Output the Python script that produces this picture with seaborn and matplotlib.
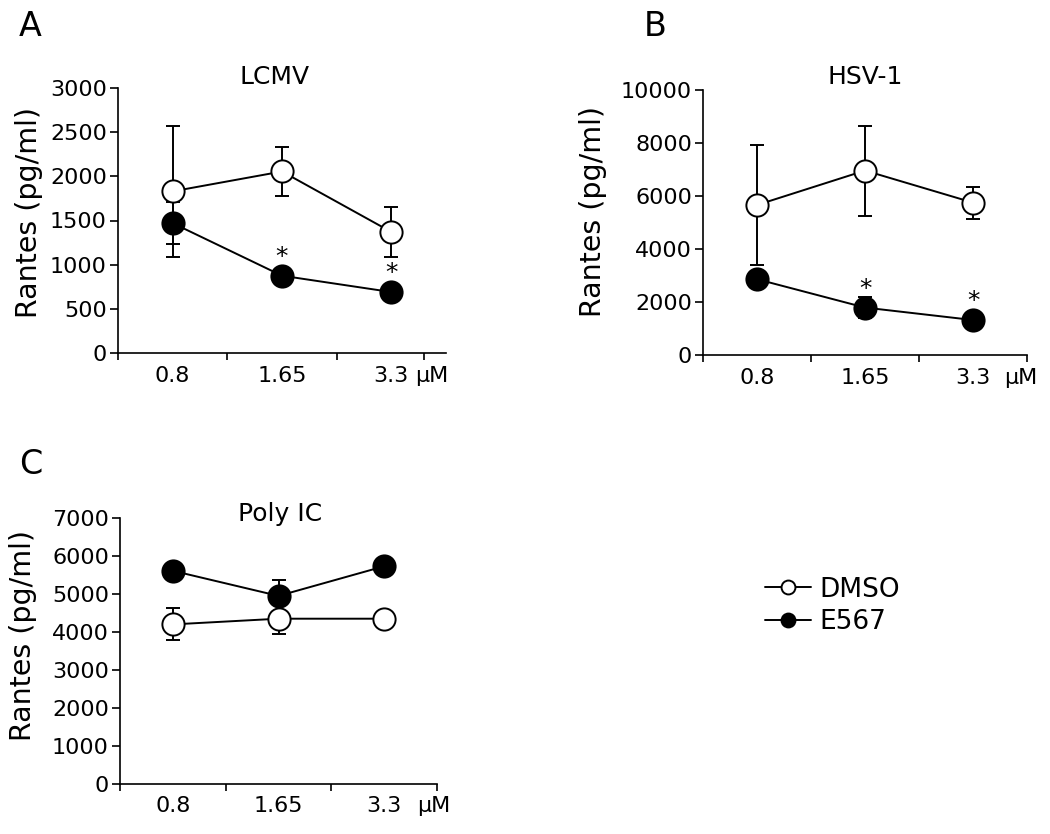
import numpy as np
import pandas as pd
import seaborn as sns
import matplotlib.pyplot as plt
from matplotlib.lines import Line2D

sns.set_style('white')
plt.rcParams['font.family'] = ['DejaVu Sans']
plt.rcParams['text.color'] = 'black'
plt.rcParams['axes.labelcolor'] = 'black'
plt.rcParams['xtick.color'] = 'black'
plt.rcParams['ytick.color'] = 'black'

doses = ['0.8', '1.65', '3.3']
unit = 'μM'

# LCMV (panel A)
lcmv_dmso = [1830, 2055, 1370]
lcmv_dmso_err = [740, 280, 280]
lcmv_e567 = [1470, 875, 690]
lcmv_e567_err = [240, 60, 40]

# HSV-1 (panel B)
hsv_dmso = [5660, 6960, 5750]
hsv_dmso_err = [2250, 1700, 600]
hsv_e567 = [2860, 1790, 1320]
hsv_e567_err = [100, 410, 80]

# Poly IC (panel C)
poly_dmso = [4200, 4350, 4350]
poly_dmso_err = [420, 410, 60]
poly_e567 = [5610, 4950, 5730]
poly_e567_err = [80, 430, 80]

W, H = 1050, 834
fig = plt.figure(figsize=(W / 100, H / 100), dpi=100)


def px_axes(left, top, right, bottom):
    # axes box given in pixels of the 1050x834 picture
    return fig.add_axes([left / W, 1 - bottom / H, (right - left) / W, (bottom - top) / H])


def panel(ax, dmso, dmso_err, e567, e567_err, ymax, step, last_tick, unit_x, stars):
    pos = np.arange(len(doses))
    df = pd.DataFrame({'x': np.concatenate([pos, pos]),
                       'value': dmso + e567,
                       'group': ['DMSO'] * 3 + ['E567'] * 3})

    # error bars behind the markers
    ax.errorbar(pos, dmso, yerr=dmso_err, fmt='none', ecolor='black',
                elinewidth=1.4, capsize=5, capthick=1.4, zorder=1)
    ax.errorbar(pos, e567, yerr=e567_err, fmt='none', ecolor='black',
                elinewidth=1.4, capsize=5, capthick=1.4, zorder=1)

    sns.lineplot(data=df[df['group'] == 'DMSO'], x='x', y='value', ax=ax,
                 color='black', marker='o', markersize=16, markerfacecolor='white',
                 markeredgecolor='black', markeredgewidth=1.4, linewidth=1.4,
                 errorbar=None, zorder=3, legend=False)
    sns.lineplot(data=df[df['group'] == 'E567'], x='x', y='value', ax=ax,
                 color='black', marker='o', markersize=16, markerfacecolor='black',
                 markeredgecolor='black', markeredgewidth=1.4, linewidth=1.4,
                 errorbar=None, zorder=4, legend=False)

    for i in stars:
        ax.annotate('*', xy=(pos[i], e567[i]), xytext=(0, 5), textcoords='offset points',
                    ha='center', va='bottom', fontsize=18)

    ax.set_xlim(-0.5, 2.5)
    ax.set_ylim(0, ymax)
    ax.set_yticks(np.arange(0, ymax + 1, step))
    ax.set_xticks([-0.5, 0.5, 1.5, last_tick])
    ax.set_xticklabels([])
    ax.set_xticks(list(pos) + [unit_x], minor=True)
    ax.set_xticklabels(doses + [unit], minor=True)
    ax.tick_params(axis='x', which='major', direction='out', length=5, width=1.2, color='black')
    ax.tick_params(axis='x', which='minor', length=0, pad=9, labelsize=16)
    ax.tick_params(axis='y', direction='out', length=6, width=1.2, color='black',
                   labelsize=16, pad=2)
    ax.tick_params(left=True, bottom=True)
    sns.despine(ax=ax)
    for s in ['left', 'bottom']:
        ax.spines[s].set_linewidth(1.2)
        ax.spines[s].set_color('black')
    ax.set_xlabel('')
    ax.set_ylabel('Rantes (pg/ml)', fontsize=20.5)


axA = px_axes(118, 88, 446, 353)
panel(axA, lcmv_dmso, lcmv_dmso_err, lcmv_e567, lcmv_e567_err, 3000, 500, 2.3, 2.37, [1, 2])
axA.yaxis.set_label_coords(-0.23, 0.53)

axB = px_axes(703, 90, 1027, 355)
panel(axB, hsv_dmso, hsv_dmso_err, hsv_e567, hsv_e567_err, 10000, 2000, 2.5, 2.44, [1, 2])
axB.yaxis.set_label_coords(-0.296, 0.54)

axC = px_axes(120, 518, 437, 784)
panel(axC, poly_dmso, poly_dmso_err, poly_e567, poly_e567_err, 7000, 1000, 2.5, 2.47, [])
axC.yaxis.set_label_coords(-0.262, 0.56)

# titles and panel letters
fig.text(275 / W, 1 - 77 / H, 'LCMV', ha='center', va='center', fontsize=18)
fig.text(865 / W, 1 - 77 / H, 'HSV-1', ha='center', va='center', fontsize=18)
fig.text(280 / W, 1 - 514 / H, 'Poly IC', ha='center', va='center', fontsize=18)
fig.text(30 / W, 1 - 26 / H, 'A', ha='center', va='center', fontsize=24)
fig.text(655 / W, 1 - 26 / H, 'B', ha='center', va='center', fontsize=24)
fig.text(31 / W, 1 - 465 / H, 'C', ha='center', va='center', fontsize=24)

handles = [
    Line2D([], [], color='black', linewidth=1.4, marker='o', markersize=10,
           markerfacecolor='white', markeredgecolor='black', markeredgewidth=1.4),
    Line2D([], [], color='black', linewidth=1.4, marker='o', markersize=10,
           markerfacecolor='black', markeredgecolor='black', markeredgewidth=1.4),
]
fig.legend(handles, ['DMSO', 'E567'], loc='center left',
           bbox_to_anchor=(765 / W, 1 - 606 / H), frameon=False, fontsize=19,
           handlelength=1.75, handletextpad=0.3, labelspacing=0.25,
           borderpad=0, borderaxespad=0)

fig.savefig('out.png', dpi=100, facecolor='white')
